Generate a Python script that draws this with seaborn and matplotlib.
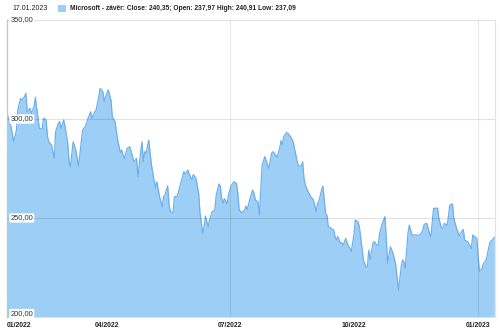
import matplotlib
matplotlib.use('Agg')
import matplotlib.pyplot as plt
from matplotlib import font_manager
import pandas as pd
import seaborn as sns

# ---- data (day offset from 17.01.2022, close price) ----
days = [0, 2, 3, 5, 7, 8, 10, 11, 13, 14, 15, 17, 18, 20, 21, 22, 24, 26, 27, 29,
        30, 31, 33, 35, 36, 38, 39, 40, 42, 43, 45, 46, 47, 49, 51, 53, 55, 56, 58, 60,
        61, 62, 63, 65, 66, 68, 69, 71, 72, 73, 75, 77, 78, 80, 82, 84, 85, 86, 87,
        89, 91, 93, 94, 96, 97, 99, 100, 101, 102, 103, 105, 107, 108, 110, 111, 113, 115,
        116, 117, 119, 120, 121, 123, 124, 126, 127, 129, 131, 132, 134, 135, 137, 138,
        140, 142, 143, 145, 146, 147, 149, 150, 152, 154, 155, 157, 158, 159, 160, 161,
        163, 164, 166, 168, 170, 171, 172, 174, 176, 177, 178, 180,
        182, 183, 184, 186, 187, 188, 189, 191, 193, 194, 196, 197, 199, 200, 202, 203,
        204, 205, 207, 208, 210, 212, 213, 215, 216, 218, 219, 220, 221, 223, 225, 227,
        229, 230, 231, 233, 234, 236, 237, 238, 240, 242, 243, 244, 245, 247, 248, 249,
        251, 252, 254, 255, 257, 258, 260, 261, 263, 264, 266, 267, 268,
        269, 271, 272, 274, 275, 276, 278, 280, 281, 282, 284, 286, 288, 290, 292, 293,
        294, 295, 297, 298, 300, 302, 304, 306, 308, 309, 311, 313, 314, 316, 317, 319,
        320, 322, 323, 324, 326, 327, 328, 330, 331, 333, 335, 336, 338, 339, 341, 342,
        344, 345, 347, 348, 349, 350, 352, 353, 355, 357, 358, 360, 361]
close = [302.9, 297.8, 296.0, 288.5, 294.4, 304.5, 310.4, 309.6, 311.3, 313.0, 303.7, 305.4, 302.9, 306.2, 311.0, 305.4, 295.3, 294.8, 300.3, 299.5,
         291.1, 288.5, 286.9, 280.1, 293.6, 297.8, 298.7, 295.3, 299.5, 296.1, 287.7, 278.4, 275.9, 288.5, 284.3, 276.3, 288.5, 294.4, 296.1, 300.3,
         302.0, 303.7, 300.3, 303.7, 304.5, 311.3, 315.5, 313.8, 308.8, 311.3, 314.7, 309.6, 301.2, 298.7, 289.4, 283.0, 284.3, 281.8, 280.1,
         285.2, 286.0, 281.0, 278.4, 280.1, 270.9, 283.5, 288.5, 278.4, 283.5, 282.7, 289.4, 276.8, 272.6, 265.0, 268.3, 260.8, 255.7,
         260.8, 261.6, 266.2, 257.4, 253.2, 252.7, 260.8, 260.8, 263.3, 268.3, 273.4, 272.2, 274.2, 272.2, 269.2, 272.0,
         270.0, 262.4, 252.3, 242.2, 245.6, 251.0, 245.6, 249.0, 253.2, 254.0, 261.6, 267.2, 266.2, 259.9, 257.4, 259.9,
         257.1, 261.6, 266.2, 268.3, 267.5, 262.4, 254.0, 252.7, 254.0, 256.0, 254.3, 259.9,
         264.1, 262.4, 259.1, 258.2, 251.5, 264.1, 276.8, 281.0, 276.8, 275.1, 282.7, 283.5, 281.8, 280.6, 285.2, 289.1,
         286.9, 291.1, 293.1, 292.8, 291.1, 288.5, 285.2, 278.4, 276.3, 276.3, 278.4, 270.0, 266.7, 263.3, 260.8, 259.1,
         253.2, 257.4, 258.2, 264.1, 266.2, 252.3, 251.5, 245.6, 244.8, 243.9, 240.6, 238.9, 240.6, 237.2, 237.5, 236.3,
         239.7, 237.2, 234.7, 233.0, 241.4, 249.0, 248.1, 245.6, 234.7, 228.8, 225.1, 225.4, 233.8,
         228.8, 237.2, 238.1, 236.3, 236.3, 242.2, 247.3, 250.7, 238.9, 227.1, 235.5, 232.1, 226.3, 213.6, 225.4, 228.8,
         227.9, 224.6, 242.2, 246.4, 241.4, 241.4, 241.4, 241.4, 243.9, 246.8, 247.3, 242.2, 240.6, 254.9, 254.9, 254.9,
         249.3, 244.8, 244.8, 247.3, 246.1, 250.7, 256.6, 257.1, 249.8, 244.8, 240.9, 242.2, 244.2, 238.9, 238.1, 237.2,
         234.7, 241.4, 240.2, 239.7, 230.5, 223.0, 224.6, 227.1, 228.8, 235.5, 238.1, 239.2, 240.35]

tick_days = [0, 74, 165, 257, 349]
tick_labels = ['01/2022', '04/2022', '07/2022', '10/2022', '01/2023']
grid_days = [165, 349]
y_ticks = [200, 250, 300, 350]
y_tick_labels = ['200,00', '250,00', '300,00', '350,00']
header_date = '17.01.2023'
legend_text = 'Microsoft - závěr: Close: 240,35; Open: 237,97 High: 240,91 Low: 237,09'

FILL = '#9dcff6'
LINE = '#6fb0ea'

sns.set_style('white')
names = {f.name for f in font_manager.fontManager.ttflist}
if 'Liberation Sans Narrow' in names:
    plt.rcParams['font.family'] = ['Liberation Sans Narrow', 'DejaVu Sans']
    fs_head, fs_leg, fs_y, fs_x = 6.1, 6.0, 6.5, 6.0
else:
    plt.rcParams['font.family'] = ['Liberation Sans', 'DejaVu Sans']
    fs_head, fs_leg, fs_y, fs_x = 5.0, 4.75, 5.4, 4.9

df = pd.DataFrame({'day': days, 'close': close})

fig = plt.figure(figsize=(5, 3.31), dpi=100)
ax = fig.add_axes([7 / 500, 1 - 317 / 331, 488 / 500, 297 / 331])

ax.fill_between(df['day'], df['close'], y_ticks[0], color=FILL, lw=0, zorder=1)
sns.lineplot(data=df, x='day', y='close', ax=ax, color=LINE, lw=0.9, zorder=2)

ax.set_xlim(0, 361.5)
ax.set_ylim(y_ticks[0], y_ticks[-1])

for v in y_ticks[1:]:
    ax.axhline(v, color='black', alpha=0.11, lw=0.8, zorder=3)
for d in grid_days:
    ax.axvline(d, color='black', alpha=0.09, lw=0.8, zorder=3)

for v, lab in zip(y_ticks, y_tick_labels):
    ax.text(0.007, v, lab, transform=ax.get_yaxis_transform(), ha='left',
            va='bottom' if v == y_ticks[0] else 'center',
            fontsize=fs_y, color='#333333', zorder=5, clip_on=False,
            bbox=dict(boxstyle='round,pad=0.15', fc='white', ec='none'))

ax.set_yticks([])
ax.set_xticks(tick_days)
ax.set_xticklabels(tick_labels, fontsize=fs_x, fontweight='bold', color='#222222')
ax.get_xticklabels()[0].set_ha('left')
ax.tick_params(axis='x', length=0, pad=3.5)
ax.set_xlabel('')
ax.set_ylabel('')

for s in ['top', 'bottom']:
    ax.spines[s].set_visible(False)
ax.spines['left'].set_color('#c4c4c4')
ax.spines['left'].set_linewidth(0.9)
ax.spines['right'].set_color('#e2e2e2')
ax.spines['right'].set_linewidth(0.8)

fig.text(12 / 500, 1 - 8 / 331, header_date, fontsize=fs_head, color='#222222', ha='left', va='center')
fig.patches.append(plt.Rectangle((58 / 500, 1 - 12 / 331), 7.5 / 500, 7.5 / 331,
                                 transform=fig.transFigure, fc=FILL, ec='none'))
fig.text(70 / 500, 1 - 8 / 331, legend_text, fontsize=fs_leg, fontweight='bold', color='#222222',
         ha='left', va='center')

fig.savefig('out.png', dpi=100)
